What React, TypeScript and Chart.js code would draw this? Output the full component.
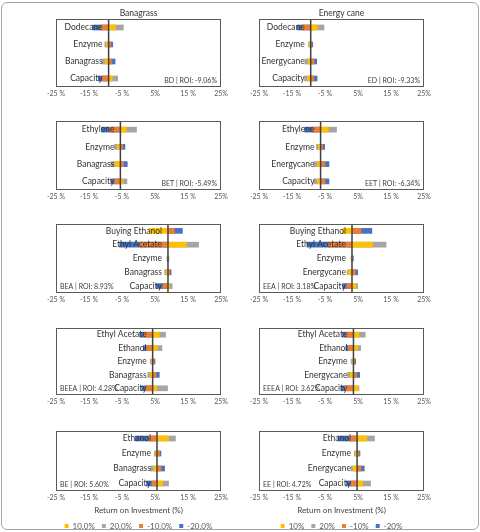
import React, { useEffect, useRef } from "react";
import { Chart, registerables } from "chart.js";
Chart.register(...registerables);

const FONT = "Lato, 'Open Sans', sans-serif";
Chart.defaults.font.family = FONT;

const xTickValues = [-25, -15, -5, 5, 15, 25];
const xTickLabels = ["-25 %", "-15 %", "-5 %", "5%", "15 %", "25%"];
const legendLabelsLeft = ["10.0%", "20.0%", "-10.0%", "-20.0%"];
const legendLabelsRight = ["10%", "20%", "-10%", "-20%"];
const seriesColors = ["#FFC000", "#A5A5A5", "#ED7D31", "#4472C4"];
const axisTitleText = "Return on Investment (%)";
const colTitles = ["Banagrass", "Energy cane"];

// BD
const bdCategories = ["Dodecane", "Enzyme", "Banagrass", "Capacity"];
const bdBase = -9.06;
const bdP10 = [-7.0, -9.7, -10.1, -7.9];
const bdP20 = [-4.6, -10.2, -11.1, -6.3];
const bdM10 = [-11.4, -8.4, -8.2, -10.9];
const bdM20 = [-13.9, -7.8, -7.1, -12.2];

// ED
const edCategories = ["Dodecane", "Enzyme", "Energycane", "Capacity"];
const edBase = -9.33;
const edP10 = [-7.3, -9.7, -10.1, -10.3];
const edP20 = [-5.3, -10.0, -11.1, -11.2];
const edM10 = [-11.9, -9.0, -8.3, -8.4];
const edM20 = [-13.4, -8.7, -7.5, -7.4];

// BET
const betCategories = ["Ethylene", "Enzyme", "Banagrass", "Capacity"];
const betBase = -5.49;
const betP10 = [-3.7, -6.4, -7.2, -4.7];
const betP20 = [-0.6, -7.3, -8.4, -3.5];
const betM10 = [-8.7, -4.8, -4.5, -7.2];
const betM20 = [-11.2, -4.1, -3.4, -8.4];

// EET
const eetCategories = ["Ethylene", "Enzyme", "Energycane", "Capacity"];
const eetBase = -6.34;
const eetP10 = [-4.0, -7.0, -7.35, -7.3];
const eetP20 = [-1.5, -7.6, -8.4, -8.4];
const eetM10 = [-8.7, -5.7, -5.0, -5.0];
const eetM20 = [-11.2, -5.1, -3.8, -3.8];

// BEA
const beaCategories = ["Buying Ethanol", "Ethyl Acetate", "Enzyme", "Banagrass", "Capacity"];
const beaBase = 8.93;
const beaP10 = [3.2, 14.5, 8.8, 8.3, 9.4];
const beaP20 = [null, 18.2, 8.6, 7.9, 10.2];
const beaM10 = [10.9, 0.3, 9.1, 9.5, 7.4];
const beaM20 = [13.3, -5.7, 9.2, 9.9, 5.4];

// EEA
const eeaCategories = ["Buying Ethanol", "Ethyl Acetate", "Enzyme", "Energycane", "Capacity"];
const eeaBase = 3.18;
const eeaP10 = [0.35, 9.4, 3.0, 2.0, 4.4];
const eeaP20 = [null, 13.5, 2.9, 1.7, 4.9];
const eeaM10 = [5.9, -4.0, 3.4, 4.2, 1.6];
const eeaM20 = [9.2, -10.5, 3.6, 4.9, 0.35];

// BEEA
const beeaCategories = ["Ethyl Acetate", "Ethanol", "Enzyme", "Banagrass", "Capacity"];
const beeaBase = 4.28;
const beeaP10 = [6.3, 5.7, 3.9, 3.5, 5.5];
const beeaP20 = [8.2, 7.1, 3.6, 2.8, 8.8];
const beeaM10 = [1.75, 2.5, 4.7, 5.3, 2.2];
const beeaM20 = [0.4, 1.45, 5.0, 6.3, 0.95];

// EEEA
const eeeaCategories = ["Ethyl Acetate", "Ethanol", "Enzyme", "Energycane", "Capacity"];
const eeeaBase = 3.62;
const eeeaP10 = [5.3, 4.8, 3.2, 2.6, 5.0];
const eeeaP20 = [7.2, 5.8, 2.9, 1.8, 5.3];
const eeeaM10 = [1.3, 2.1, 4.0, 4.6, 1.1];
const eeeaM20 = [0.3, 1.3, 4.3, 5.5, -0.2];

// BE
const beCategories = ["Ethanol", "Enzyme", "Banagrass", "Capacity"];
const beBase = 5.6;
const beP10 = [9.1, 5.2, 4.6, 7.3];
const beP20 = [11.2, 4.8, 3.6, 9.1];
const beM10 = [3.1, 6.4, 6.8, 4.1];
const beM20 = [-1.0, 6.8, 7.9, 2.4];

// EE
const eeCategories = ["Ethanol", "Enzyme", "Energycane", "Capacity"];
const eeBase = 4.72;
const eeP10 = [7.7, 4.2, 3.5, 6.4];
const eeP20 = [10.0, 3.9, 2.9, 8.8];
const eeM10 = [2.4, 5.3, 5.9, 2.9];
const eeM20 = [-1.1, 5.6, 6.9, 1.4];

type Val = number | null;
type Panel = {
  col: number;
  row: number;
  note: string;
  noteLeft: boolean;
  categories: string[];
  base: number;
  p10: Val[];
  p20: Val[];
  m10: Val[];
  m20: Val[];
};

const panels: Panel[] = [
  { col: 0, row: 0, note: "BD | ROI: -9.06%", noteLeft: false, categories: bdCategories, base: bdBase, p10: bdP10, p20: bdP20, m10: bdM10, m20: bdM20 },
  { col: 1, row: 0, note: "ED | ROI: -9.33%", noteLeft: false, categories: edCategories, base: edBase, p10: edP10, p20: edP20, m10: edM10, m20: edM20 },
  { col: 0, row: 1, note: "BET | ROI: -5.49%", noteLeft: false, categories: betCategories, base: betBase, p10: betP10, p20: betP20, m10: betM10, m20: betM20 },
  { col: 1, row: 1, note: "EET | ROI: -6.34%", noteLeft: false, categories: eetCategories, base: eetBase, p10: eetP10, p20: eetP20, m10: eetM10, m20: eetM20 },
  { col: 0, row: 2, note: "BEA | ROI: 8.93%", noteLeft: true, categories: beaCategories, base: beaBase, p10: beaP10, p20: beaP20, m10: beaM10, m20: beaM20 },
  { col: 1, row: 2, note: "EEA | ROI: 3.18%", noteLeft: true, categories: eeaCategories, base: eeaBase, p10: eeaP10, p20: eeaP20, m10: eeaM10, m20: eeaM20 },
  { col: 0, row: 3, note: "BEEA | ROI: 4.28%", noteLeft: true, categories: beeaCategories, base: beeaBase, p10: beeaP10, p20: beeaP20, m10: beeaM10, m20: beeaM20 },
  { col: 1, row: 3, note: "EEEA | ROI: 3.62%", noteLeft: true, categories: eeeaCategories, base: eeeaBase, p10: eeeaP10, p20: eeeaP20, m10: eeeaM10, m20: eeeaM20 },
  { col: 0, row: 4, note: "BE | ROI: 5.60%", noteLeft: true, categories: beCategories, base: beBase, p10: beP10, p20: beP20, m10: beM10, m20: beM20 },
  { col: 1, row: 4, note: "EE | ROI: 4.72%", noteLeft: true, categories: eeCategories, base: eeBase, p10: eeP10, p20: eeP20, m10: eeM10, m20: eeM20 },
];

// layout geometry (box top/bottom per row, left/right padding per column)
const ROW_BOX = [
  [19, 87],
  [121, 190],
  [224, 293],
  [328, 395],
  [431, 491],
];
const COL_PAD = [
  [56, 19],
  [19, 56],
];

function PanelChart({ p }: { p: Panel }) {
  const ref = useRef<HTMLCanvasElement>(null);
  const [boxTop, boxBottom] = ROW_BOX[p.row];
  const last = p.row === 4;
  const padTop = 15;
  const scaleH = last ? 24 : 14;
  const legendH = last ? 25 : 0;
  const top = boxTop - padTop;
  const height = padTop + (boxBottom - boxTop) + scaleH + legendH;

  useEffect(() => {
    const labels = p.col === 0 ? legendLabelsLeft : legendLabelsRight;
    const series = [p.p10, p.p20, p.m10, p.m20];
    const decor = {
      id: "decor",
      afterDatasetsDraw(chart: any) {
        const { ctx, scales, chartArea } = chart;
        const { left, right, top: t, bottom } = chartArea;
        const x0 = scales.x.getPixelForValue(p.base);
        ctx.save();
        // category labels (drawn over the bars, as in the source)
        ctx.font = `8.5px ${FONT}`;
        ctx.fillStyle = "#333333";
        ctx.textAlign = "right";
        ctx.textBaseline = "middle";
        p.categories.forEach((c, i) => {
          ctx.fillText(c, x0 - 6, scales.y.getPixelForValue(i));
        });
        // base line
        ctx.strokeStyle = "#404040";
        ctx.lineWidth = 1.5;
        ctx.beginPath();
        ctx.moveTo(x0, t);
        ctx.lineTo(x0, bottom);
        ctx.stroke();
        // box
        ctx.strokeStyle = "#595959";
        ctx.lineWidth = 1;
        ctx.strokeRect(Math.round(left) + 0.5, Math.round(t) + 0.5, Math.round(right - left) - 1, Math.round(bottom - t) - 1);
        // note
        ctx.font = `7px ${FONT}`;
        ctx.fillStyle = "#404040";
        ctx.textBaseline = "middle";
        if (p.noteLeft) {
          ctx.textAlign = "left";
          ctx.fillText(p.note, left + 4, bottom - 6.5);
        } else {
          ctx.textAlign = "right";
          ctx.fillText(p.note, right - 4, bottom - 6.5);
        }
        // column title
        if (p.row === 0) {
          ctx.font = `8.5px ${FONT}`;
          ctx.fillStyle = "#333333";
          ctx.textAlign = "center";
          ctx.fillText(colTitles[p.col], (left + right) / 2, t - 6);
        }
        ctx.restore();
      },
    };
    const chart = new Chart(ref.current!, {
      type: "bar",
      data: {
        labels: p.categories,
        datasets: series.map((s, k) => ({
          label: labels[k],
          data: s.map((v) => (v == null ? null : [p.base, v])) as any,
          backgroundColor: seriesColors[k],
          borderWidth: 0,
          barThickness: 5,
          grouped: false,
        })),
      },
      options: {
        indexAxis: "y",
        animation: false,
        responsive: false,
        devicePixelRatio: 1,
        events: [],
        layout: {
          padding: { left: COL_PAD[p.col][0], right: COL_PAD[p.col][1], top: padTop, bottom: 0 },
        },
        plugins: {
          legend: {
            display: last,
            position: "bottom",
            labels: {
              boxWidth: 4,
              boxHeight: 4,
              padding: 7,
              color: "#595959",
              font: { size: 8, family: FONT },
            },
          },
          tooltip: { enabled: false },
          title: { display: false },
        },
        scales: {
          x: {
            type: "linear",
            min: -25,
            max: 25,
            afterBuildTicks: (s: any) => {
              s.ticks = xTickValues.map((v) => ({ value: v }));
            },
            afterFit: (s: any) => {
              s.height = scaleH;
            },
            ticks: {
              autoSkip: false,
              maxRotation: 0,
              padding: 3,
              color: "#595959",
              font: { size: 7, family: FONT },
              callback: (v: any) => xTickLabels[xTickValues.indexOf(Number(v))],
            },
            grid: { display: false, drawTicks: false },
            border: { display: false },
            title: {
              display: last,
              text: axisTitleText,
              color: "#404040",
              font: { size: 8, family: FONT },
              padding: 0,
            },
          },
          y: {
            display: false,
            offset: true,
          },
        },
      } as any,
      plugins: [decor],
    });
    return () => chart.destroy();
  }, []);

  return (
    <canvas
      ref={ref}
      width={240}
      height={height}
      style={{ position: "absolute", left: p.col * 240, top, width: 240, height }}
    />
  );
}

export default function App() {
  return (
    <div
      style={{
        position: "fixed",
        left: 0,
        top: 0,
        width: 480,
        height: 532,
        overflow: "hidden",
        background: "#fff",
      }}
    >
      <div
        style={{
          position: "absolute",
          left: 1,
          top: 2,
          width: 478,
          height: 528,
          boxSizing: "border-box",
          border: "1px solid #a6a6a6",
          borderRadius: 6,
        }}
      />
      {panels.map((p, i) => (
        <PanelChart key={i} p={p} />
      ))}
    </div>
  );
}
